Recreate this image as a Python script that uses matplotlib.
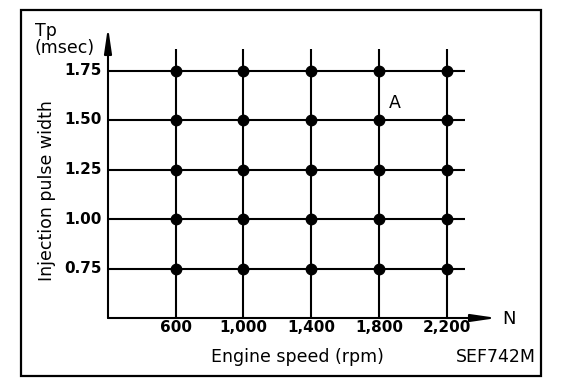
import matplotlib.pyplot as plt
from matplotlib.patches import Rectangle

plt.rcParams['font.family'] = ['DejaVu Sans']

# data
rpm = [600, 1000, 1400, 1800, 2200]
rpm_labels = ['600', '1,000', '1,400', '1,800', '2,200']
tp = [0.75, 1.00, 1.25, 1.50, 1.75]
tp_labels = ['0.75', '1.00', '1.25', '1.50', '1.75']

W, H = 576, 392
fig = plt.figure(figsize=(W / 100, H / 100), dpi=100)

# outer frame
fig.patches.append(Rectangle((21 / W, 1 - 376 / H), (541 - 21) / W, (376 - 10) / H,
                             transform=fig.transFigure, fill=False, lw=1.6,
                             edgecolor='black'))

# axes area: left spine at x=108, bottom at y=318, arrows reach x=497 / y=27
ax = fig.add_axes([108 / W, 1 - 318 / H, (497 - 108) / W, (318 - 27) / H])
ax.set_xlim(200, 2497)
ax.set_ylim(0.5, 0.5 + (318 - 27) / 49.5 * 0.25)
for s in ax.spines.values():
    s.set_visible(False)
ax.set_xticks([])
ax.set_yticks([])
ax.patch.set_alpha(0)

# grid
for v in tp:
    ax.plot([200, 2310], [v, v], color='black', lw=1.5, solid_capstyle='butt')
for r in rpm:
    ax.plot([r, r], [0.5, 1.86], color='black', lw=1.5, solid_capstyle='butt')
for r in rpm:
    ax.plot([r] * len(tp), tp, 'o', color='black', ms=7.5)

# axis arrows
arrow = dict(arrowstyle='-|>,head_length=1.5,head_width=0.22', color='black', lw=1.5,
             shrinkA=0, shrinkB=0)
ax.annotate('', xy=(0, 1), xytext=(0, 0), xycoords='axes fraction', arrowprops=arrow)
ax.annotate('', xy=(1, 0), xytext=(0, 0), xycoords='axes fraction', arrowprops=arrow)
fig.text(509 / W, 1 - 318.5 / H, 'N', fontsize=13, ha='center', va='center')

# tick labels
for r, lab in zip(rpm, rpm_labels):
    ax.text(r, 0.5 - 10 / 49.5 * 0.25, lab, fontsize=11, fontweight='bold',
            ha='center', va='center')
for v, lab in zip(tp, tp_labels):
    ax.text(-0.016, v, lab, transform=ax.get_yaxis_transform(), fontsize=11,
            fontweight='bold', ha='right', va='center')

fig.text(395 / W, 1 - 103.5 / H, 'A', fontsize=12.5, ha='center', va='center')

# labels
fig.text(297 / W, 1 - 362 / H, 'Engine speed (rpm)', fontsize=12.5, ha='center',
         va='baseline')
fig.text(536 / W, 1 - 362 / H, 'SEF742M', fontsize=12.5, ha='right', va='baseline')
fig.text(35 / W, 1 - 36.5 / H, 'Tp', fontsize=12.5, ha='left', va='baseline')
fig.text(34 / W, 1 - 53 / H, '(msec)', fontsize=12.5, ha='left', va='baseline')
fig.text(47 / W, 1 - 191 / H, 'Injection pulse width', fontsize=12.5, rotation=90,
         ha='center', va='center')

fig.savefig('out.png', dpi=100)
